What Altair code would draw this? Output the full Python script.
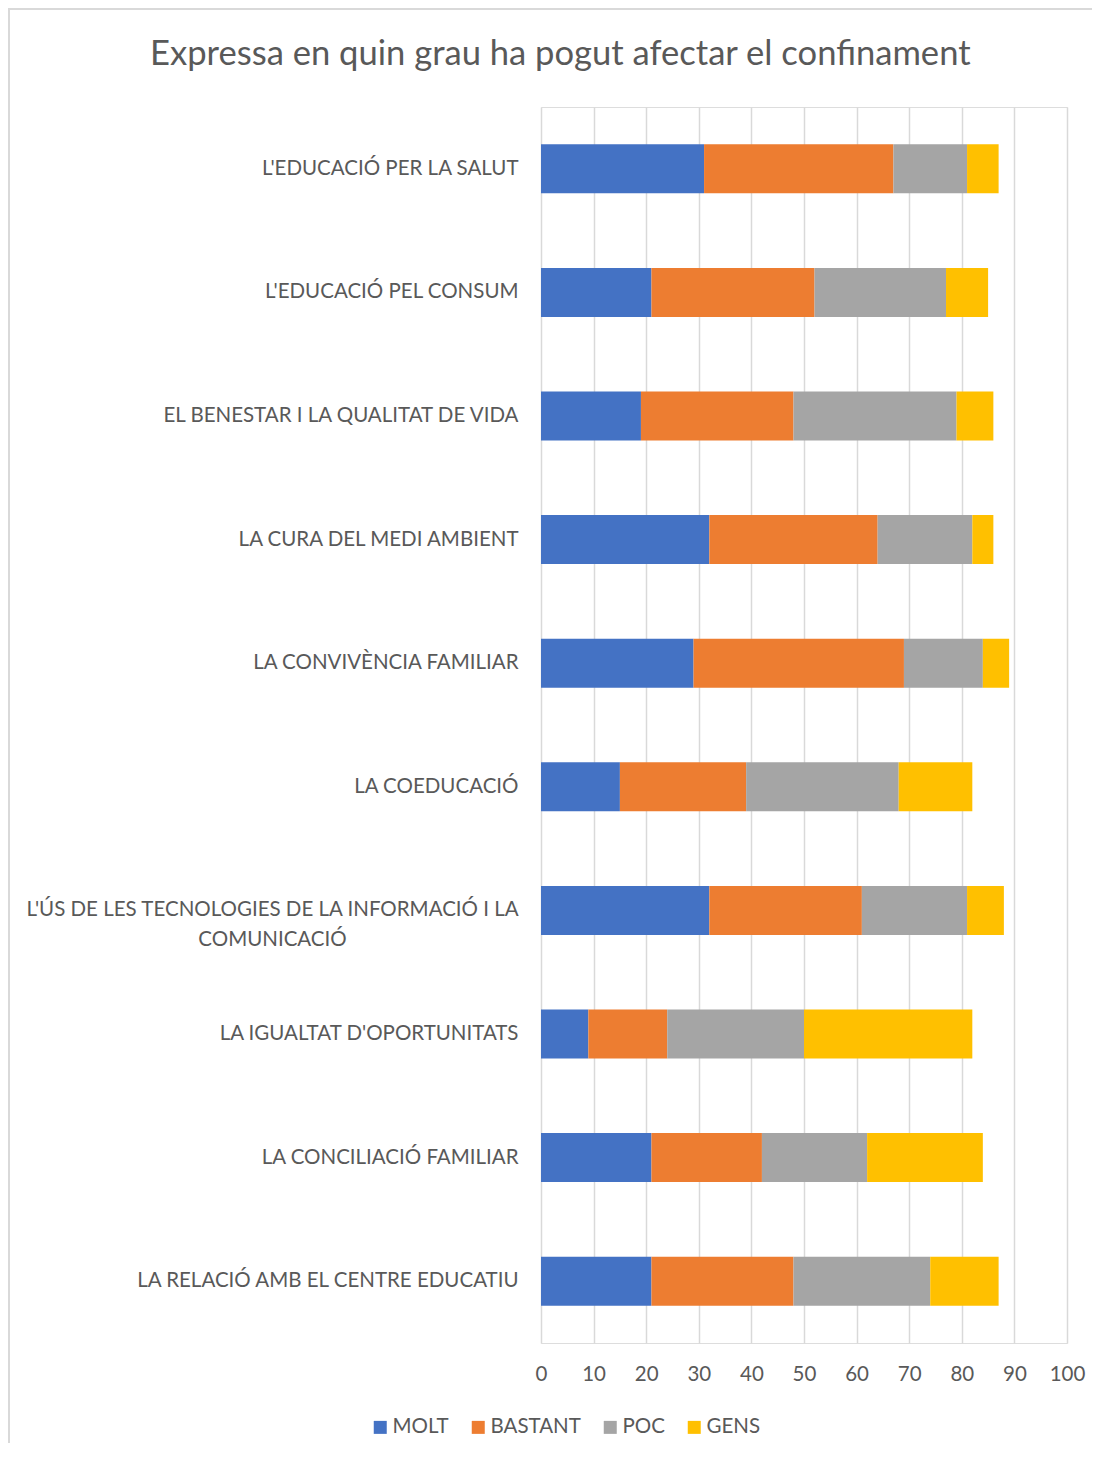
import json
import altair as alt
import pandas as pd

categories = [
    "L'EDUCACIÓ PER LA SALUT",
    "L'EDUCACIÓ PEL CONSUM",
    "EL BENESTAR I LA QUALITAT DE VIDA",
    "LA CURA DEL MEDI AMBIENT",
    "LA CONVIVÈNCIA FAMILIAR",
    "LA COEDUCACIÓ",
    "L'ÚS DE LES TECNOLOGIES DE LA INFORMACIÓ I LA COMUNICACIÓ",
    "LA IGUALTAT D'OPORTUNITATS",
    "LA CONCILIACIÓ FAMILIAR",
    "LA RELACIÓ AMB EL CENTRE EDUCATIU",
]
series = ["MOLT", "BASTANT", "POC", "GENS"]
molt = [31, 21, 19, 32, 29, 15, 32, 9, 21, 21]
bastant = [36, 31, 29, 32, 40, 24, 29, 15, 21, 27]
poc = [14, 25, 31, 18, 15, 29, 20, 26, 20, 26]
gens = [6, 8, 7, 4, 5, 14, 7, 32, 22, 13]
colors = ["#4472C4", "#ED7D31", "#A5A5A5", "#FFC000"]
x_ticks = list(range(0, 101, 10))

rows = []
for s_i, (s, vals) in enumerate(zip(series, [molt, bastant, poc, gens])):
    for c, v in zip(categories, vals):
        rows.append({"cat": c, "serie": s, "val": v, "ord": s_i})
df = pd.DataFrame(rows)

TXT = "#595959"
FONT = "Lato"
FS = 20.5

# two-line label for the long category (lines centred on each other)
long_cat = categories[6]
line1 = "L'ÚS DE LES TECNOLOGIES DE LA INFORMACIÓ I LA"
line2 = "COMUNICACIÓ"
long_js = json.dumps(long_cat, ensure_ascii=False)
label_expr = (
    f"datum.label == {long_js} ? "
    f"[{json.dumps(line1, ensure_ascii=False)}, {json.dumps(line2, ensure_ascii=False)}] : datum.label"
)

frame = alt.Chart(pd.DataFrame({"k": [0]})).mark_rect(
    fill=None, stroke="#d9d9d9", strokeWidth=2
).encode(
    x=alt.value(-532), x2=alt.value(700), y=alt.value(-98), y2=alt.value(1500)
)

bars = alt.Chart(df).mark_bar(size=49).encode(
    x=alt.X(
        "val:Q",
        stack="zero",
        scale=alt.Scale(domain=[0, 100], nice=False),
        axis=alt.Axis(
            values=x_ticks,
            title=None,
            grid=True,
            gridColor="#d9d9d9",
            gridWidth=1.5,
            domain=False,
            ticks=False,
            labelFlush=False,
            labelPadding=21,
            labelFont=FONT,
            labelFontSize=FS,
            labelColor=TXT,
        ),
    ),
    y=alt.Y(
        "cat:N",
        sort=categories,
        scale=alt.Scale(paddingInner=0.6, paddingOuter=0.3),
        axis=alt.Axis(
            title=None,
            domain=False,
            ticks=False,
            grid=False,
            labelAlign={"condition": {"test": f"datum.value == {long_js}", "value": "center"}, "value": "right"},
            labelPadding={"condition": {"test": f"datum.value == {long_js}", "value": 269}, "value": 23},
            labelFont=FONT,
            labelFontSize=FS,
            labelColor=TXT,
            labelLimit=0,
            labelLineHeight=30,
            labelExpr=label_expr,
        ),
    ),
    color=alt.Color(
        "serie:N",
        scale=alt.Scale(domain=series, range=colors),
        legend=alt.Legend(
            title=None,
            orient="none",
            direction="horizontal",
            legendX=-171,
            legendY=1310,
            symbolType="square",
            symbolSize=169,
            symbolStrokeWidth=0,
            labelFont=FONT,
            labelFontSize=FS,
            labelColor=TXT,
            labelOffset=2,
            columnPadding=19,
        ),
    ),
    order=alt.Order("ord:Q", sort="ascending"),
)

chart = alt.layer(frame, bars).properties(
    width=526,
    height=1236,
    autosize=alt.AutoSizeParams(type="none"),
    padding={"left": 533, "top": 99, "right": 25, "bottom": 100},
    title=alt.TitleParams(
        "Expressa en quin grau ha pogut afectar el confinament",
        anchor="start",
        frame="group",
        dx=-391,
        offset=-92,
        baseline="alphabetic",
        font=FONT,
        fontSize=34.6,
        fontWeight="normal",
        color=TXT,
    ),
).configure_view(stroke=None).configure(background="white")

chart.save("out.html", embed_options={"renderer": "svg", "actions": False})
